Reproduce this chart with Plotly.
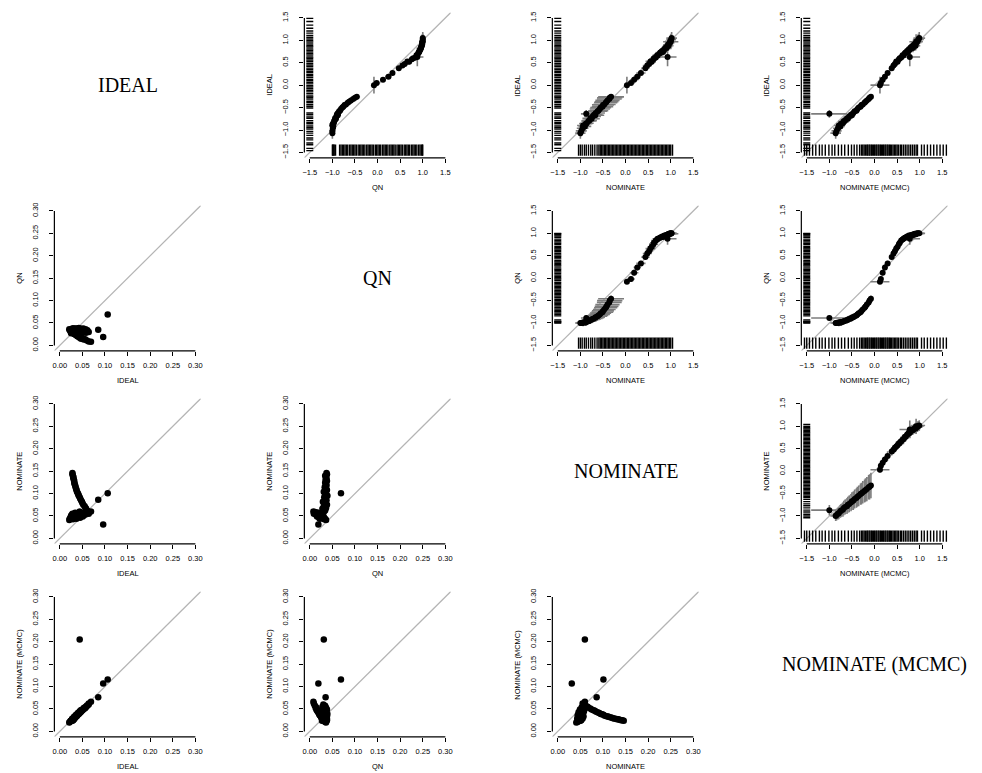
import plotly.graph_objects as go

W, H = 982, 773

METHODS = ["IDEAL", "QN", "NOMINATE", "NOMINATE (MCMC)"]

# Ideal points, Democrats (most liberal first)
IDEAL_D = [-1.07, -1.02, -0.96, -0.90, -0.92, -0.86, -0.85, -0.80, -0.79, -0.74, -0.75, -0.70, -0.66, -0.67,
           -0.62, -0.58, -0.57, -0.53, -0.50, -0.48, -0.44, -0.43, -0.39, -0.37, -0.34, -0.31, -0.28, -0.26]
QN_D = [-1.00, -1.00, -0.99, -1.00, -0.98, -0.99, -0.97, -0.96, -0.95, -0.94, -0.92, -0.91, -0.90, -0.88,
        -0.87, -0.85, -0.83, -0.81, -0.78, -0.76, -0.73, -0.70, -0.66, -0.63, -0.59, -0.54, -0.50, -0.46]
NOM_D = [-1.00, -0.98, -0.95, -0.94, -0.90, -0.88, -0.86, -0.82, -0.80, -0.78, -0.75, -0.73, -0.70, -0.67,
         -0.66, -0.62, -0.60, -0.57, -0.55, -0.51, -0.50, -0.47, -0.44, -0.42, -0.40, -0.36, -0.35, -0.32]
MCMC_D = [-0.86, -0.84, -0.81, -0.79, -0.76, -0.74, -0.70, -0.68, -0.65, -0.61, -0.59, -0.56, -0.52, -0.50,
          -0.47, -0.44, -0.40, -0.38, -0.35, -0.31, -0.29, -0.26, -0.22, -0.20, -0.17, -0.13, -0.11, -0.08]

# Ideal points, Republicans
IDEAL_R = [0.05, 0.12, 0.19, 0.27, 0.38, 0.44, 0.47, 0.53, 0.52, 0.58, 0.60, 0.62, 0.67, 0.66, 0.71,
           0.73, 0.76, 0.74, 0.80, 0.79, 0.84, 0.86, 0.83, 0.90, 0.92, 0.88, 0.95, 0.98, 1.02, 1.05]
QN_R = [-0.02, 0.12, 0.24, 0.33, 0.47, 0.55, 0.60, 0.66, 0.70, 0.76, 0.79, 0.84, 0.86, 0.88, 0.90,
        0.91, 0.93, 0.92, 0.95, 0.94, 0.96, 0.97, 0.96, 0.98, 0.99, 0.98, 0.99, 1.00, 1.00, 1.00]
NOM_R = [0.12, 0.19, 0.26, 0.34, 0.44, 0.48, 0.52, 0.55, 0.58, 0.62, 0.63, 0.67, 0.70, 0.71, 0.76,
         0.77, 0.81, 0.83, 0.86, 0.85, 0.89, 0.92, 0.91, 0.94, 0.96, 0.95, 0.98, 0.99, 1.01, 1.02]
MCMC_R = [0.14, 0.18, 0.23, 0.29, 0.38, 0.42, 0.45, 0.48, 0.51, 0.54, 0.56, 0.59, 0.62, 0.64, 0.67,
          0.69, 0.72, 0.74, 0.76, 0.78, 0.80, 0.83, 0.85, 0.87, 0.89, 0.91, 0.93, 0.95, 0.97, 0.99]

# A few poorly estimated legislators
IDEAL_X = [-0.64, 0.63, 0.00, 0.97]
QN_X = [-0.89, 0.88, -0.08, 0.99]
NOM_X = [-0.87, 0.93, 0.03, 1.00]
MCMC_X = [-1.00, 0.78, 0.12, 0.92]

# Standard errors, Democrats
IDEAL_SE_D = [0.064, 0.061, 0.058, 0.057, 0.055, 0.052, 0.050, 0.049, 0.047, 0.045, 0.044, 0.042, 0.041, 0.040,
              0.038, 0.037, 0.036, 0.035, 0.034, 0.033, 0.032, 0.032, 0.031, 0.030, 0.030, 0.029, 0.028, 0.028]
QN_SE_D = [0.030, 0.034, 0.028, 0.036, 0.031, 0.038, 0.033, 0.029, 0.037, 0.035, 0.032, 0.039, 0.034, 0.036,
           0.031, 0.038, 0.035, 0.033, 0.037, 0.036, 0.034, 0.038, 0.035, 0.037, 0.036, 0.034, 0.038, 0.037]
NOM_SE_D = [0.058, 0.062, 0.066, 0.068, 0.072, 0.075, 0.079, 0.082, 0.085, 0.089, 0.092, 0.095, 0.098, 0.101,
            0.104, 0.108, 0.111, 0.114, 0.118, 0.121, 0.124, 0.128, 0.131, 0.134, 0.137, 0.140, 0.143, 0.146]
MCMC_SE_D = [0.060, 0.057, 0.055, 0.053, 0.051, 0.049, 0.047, 0.046, 0.044, 0.042, 0.041, 0.039, 0.038, 0.037,
             0.035, 0.034, 0.033, 0.032, 0.031, 0.030, 0.029, 0.028, 0.027, 0.027, 0.026, 0.025, 0.025, 0.024]

# Standard errors, Republicans
IDEAL_SE_R = [0.022, 0.024, 0.021, 0.026, 0.027, 0.025, 0.029, 0.028, 0.031, 0.030, 0.033, 0.032, 0.035, 0.034, 0.037,
              0.036, 0.039, 0.041, 0.040, 0.043, 0.045, 0.044, 0.048, 0.047, 0.051, 0.053, 0.056, 0.060, 0.064, 0.069]
QN_SE_R = [0.034, 0.031, 0.036, 0.029, 0.030, 0.027, 0.032, 0.028, 0.026, 0.029, 0.025, 0.027, 0.024, 0.026, 0.022,
           0.025, 0.021, 0.023, 0.020, 0.019, 0.021, 0.017, 0.018, 0.015, 0.016, 0.013, 0.014, 0.011, 0.009, 0.008]
NOM_SE_R = [0.044, 0.048, 0.041, 0.052, 0.046, 0.050, 0.043, 0.055, 0.047, 0.051, 0.045, 0.053, 0.049, 0.057, 0.044,
            0.052, 0.048, 0.056, 0.050, 0.054, 0.046, 0.058, 0.051, 0.055, 0.049, 0.057, 0.053, 0.059, 0.055, 0.060]
MCMC_SE_R = [0.021, 0.024, 0.020, 0.025, 0.027, 0.024, 0.028, 0.029, 0.030, 0.029, 0.032, 0.033, 0.034, 0.033, 0.036,
             0.037, 0.038, 0.040, 0.041, 0.042, 0.043, 0.045, 0.046, 0.048, 0.049, 0.052, 0.054, 0.058, 0.062, 0.066]

IDEAL_SE_X = [0.044, 0.106, 0.096, 0.085]
QN_SE_X = [0.031, 0.069, 0.019, 0.035]
NOM_SE_X = [0.060, 0.101, 0.031, 0.086]
MCMC_SE_X = [0.205, 0.116, 0.107, 0.076]

# Rug values (bill parameters) shown along the axes of the upper panels
RUG_IDEAL = [-1.46, -1.41, -1.33, -1.29, -1.22, -1.18, -1.12, -1.07, -1.03, -0.98, -0.95, -0.91, -0.86, -0.83,
             -0.79, -0.74, -0.71, -0.66, -0.62, -0.51, -0.47, -0.43, -0.39, -0.36, -0.31, -0.27, -0.24, -0.19,
             -0.15, -0.12, -0.08, -0.04, -0.01, 0.03, 0.06, 0.10, 0.13, 0.17, 0.21, 0.24, 0.28, 0.31, 0.35, 0.38,
             0.42, 0.45, 0.49, 0.53, 0.56, 0.60, 0.63, 0.67, 0.70, 0.74, 0.78, 0.81, 0.85, 0.88, 0.92, 0.96,
             0.99, 1.03, 1.07, 1.11, 1.16, 1.21, 1.27, 1.34, 1.42, 1.49]
RUG_QN = [-1.00, -0.99, -0.97, -0.96, -0.93, -0.84, -0.81, -0.78, -0.75, -0.72, -0.69, -0.66, -0.62, -0.59,
          -0.56, -0.53, -0.50, -0.47, -0.43, -0.40, -0.37, -0.34, -0.31, -0.28, -0.24, -0.21, -0.18, -0.15,
          -0.12, -0.09, -0.05, -0.02, 0.01, 0.04, 0.07, 0.11, 0.14, 0.17, 0.20, 0.23, 0.27, 0.30, 0.33, 0.36,
          0.39, 0.43, 0.46, 0.49, 0.52, 0.55, 0.59, 0.62, 0.65, 0.68, 0.71, 0.75, 0.78, 0.81, 0.84, 0.87,
          0.91, 0.94, 0.97, 0.99, 1.00]
RUG_NOM = [-1.04, -1.00, -0.96, -0.91, -0.87, -0.82, -0.77, -0.73, -0.68, -0.63, -0.59, -0.56, -0.53, -0.50,
           -0.47, -0.44, -0.41, -0.38, -0.35, -0.32, -0.29, -0.26, -0.23, -0.20, -0.17, -0.14, -0.11, -0.08,
           -0.05, -0.02, 0.01, 0.04, 0.07, 0.10, 0.13, 0.16, 0.19, 0.22, 0.25, 0.28, 0.31, 0.34, 0.37, 0.40,
           0.43, 0.46, 0.49, 0.52, 0.55, 0.58, 0.61, 0.64, 0.67, 0.70, 0.73, 0.76, 0.79, 0.82, 0.85, 0.88,
           0.91, 0.94, 0.97, 1.00, 1.04]
RUG_MCMC = [-1.55, -1.50, -1.44, -1.37, -1.30, -1.22, -1.16, -1.09, -1.01, -0.94, -0.88, -0.80, -0.73, -0.66,
            -0.58, -0.51, -0.45, -0.39, -0.33, -0.29, -0.26, -0.23, -0.20, -0.17, -0.15, -0.12, -0.10, -0.07,
            -0.05, -0.02, 0.00, 0.03, 0.05, 0.08, 0.10, 0.13, 0.15, 0.18, 0.20, 0.23, 0.25, 0.28, 0.30, 0.33,
            0.35, 0.38, 0.41, 0.44, 0.47, 0.50, 0.53, 0.57, 0.60, 0.64, 0.68, 0.72, 0.76, 0.80, 0.84, 0.88,
            0.92, 0.95, 1.04, 1.10, 1.17, 1.24, 1.31, 1.38, 1.45, 1.52, 1.59]

# Axis ticks
EST_TICKS = [-1.5, -1.0, -0.5, 0.0, 0.5, 1.0, 1.5]
EST_LABELS = ["\u22121.5", "\u22121.0", "\u22120.5", "0.0", "0.5", "1.0", "1.5"]
SE_TICKS = [0.0, 0.05, 0.10, 0.15, 0.20, 0.25, 0.30]
SE_LABELS = ["0.00", "0.05", "0.10", "0.15", "0.20", "0.25", "0.30"]

est = [IDEAL_D + IDEAL_R + IDEAL_X, QN_D + QN_R + QN_X,
       NOM_D + NOM_R + NOM_X, MCMC_D + MCMC_R + MCMC_X]
se = [IDEAL_SE_D + IDEAL_SE_R + IDEAL_SE_X, QN_SE_D + QN_SE_R + QN_SE_X,
      NOM_SE_D + NOM_SE_R + NOM_SE_X, MCMC_SE_D + MCMC_SE_R + MCMC_SE_X]
rugs = [RUG_IDEAL, RUG_QN, RUG_NOM, RUG_MCMC]

# Panel geometry (pixels)
COL_LEFT = [52.6, 303.6, 552.6, 802.6]
ROW_TOP = [9.6, 203.6, 397.6, 591.6]
PW, PH = 147.0, 146.0

EST_RANGE = [-1.62, 1.62]
SE_RANGE = [-0.012, 0.312]
TICK_FONT = dict(family="Liberation Sans, Arial, sans-serif", size=7.5, color="black")
CI = 1.96
ERR_COLOR = "#7c7c7c"

fig = go.Figure()
layout = dict(width=W, height=H, margin=dict(l=0, r=0, t=0, b=0),
              paper_bgcolor="white", plot_bgcolor="white", showlegend=False)
shapes, annotations = [], []


def sfx(n):
    return "" if n == 1 else str(n)


for r in range(4):
    for c in range(4):
        n = r * 4 + c + 1
        s = sfx(n)
        left, top = COL_LEFT[c], ROW_TOP[r]
        xdom = [left / W, (left + PW) / W]
        ydom = [1 - (top + PH) / H, 1 - top / H]
        xname, yname = "x" + s, "y" + s

        if r == c:
            layout["xaxis" + s] = dict(domain=xdom, anchor=yname, visible=False, range=[0, 1])
            layout["yaxis" + s] = dict(domain=ydom, anchor=xname, visible=False, range=[0, 1])
            annotations.append(dict(text=METHODS[r], xref="paper", yref="paper",
                                    x=(left + PW / 2) / W, y=1 - (top + PH / 2) / H,
                                    xanchor="center", yanchor="middle", showarrow=False,
                                    font=dict(family="Liberation Serif, Times New Roman, serif",
                                              size=20, color="black")))
            continue

        upper = r < c
        rng = EST_RANGE if upper else SE_RANGE
        tv = EST_TICKS if upper else SE_TICKS
        tt = EST_LABELS if upper else SE_LABELS
        common = dict(range=rng, tickvals=tv, ticktext=tt, ticks="outside", ticklen=4,
                      tickwidth=1, tickcolor="black", tickfont=TICK_FONT, showgrid=False,
                      zeroline=False, showline=False, fixedrange=True)
        layout["xaxis" + s] = dict(domain=xdom, anchor=yname, ticklabelstandoff=3, **common)
        layout["yaxis" + s] = dict(domain=ydom, anchor=xname, tickangle=-90,
                                   ticklabelstandoff=8, **common)

        # R-style axis lines spanning the tick range
        shapes.append(dict(type="line", xref=xname, yref=yname + " domain",
                           x0=tv[0], x1=tv[-1], y0=0, y1=0,
                           line=dict(color="black", width=1.2)))
        shapes.append(dict(type="line", xref=xname + " domain", yref=yname,
                           x0=0, x1=0, y0=tv[0], y1=tv[-1],
                           line=dict(color="black", width=1.2)))
        # 45-degree reference line
        shapes.append(dict(type="line", xref=xname, yref=yname, layer="below",
                           x0=rng[0], y0=rng[0], x1=rng[1], y1=rng[1],
                           line=dict(color="#b4b4b4", width=1.2)))

        if upper:
            xs, ys = est[c], est[r]
            # confidence intervals
            fig.add_trace(go.Scatter(
                x=xs, y=ys, mode="markers", xaxis=xname, yaxis=yname,
                marker=dict(size=2, color="rgba(0,0,0,0)"),
                error_x=dict(type="data", array=[CI * v for v in se[c]], color=ERR_COLOR,
                             thickness=1.6, width=0),
                error_y=dict(type="data", array=[CI * v for v in se[r]], color=ERR_COLOR,
                             thickness=1.6, width=0),
                hoverinfo="skip"))
            # rug of column method along the bottom
            fig.add_trace(go.Scatter(
                x=rugs[c], y=[-1.45] * len(rugs[c]), mode="markers", xaxis=xname, yaxis=yname,
                marker=dict(symbol="line-ns", size=8, line=dict(width=1.4, color="black")),
                hoverinfo="skip"))
            # rug of row method along the left
            fig.add_trace(go.Scatter(
                x=[-1.5] * len(rugs[r]), y=rugs[r], mode="markers", xaxis=xname, yaxis=yname,
                marker=dict(symbol="line-ew", size=5, line=dict(width=1.4, color="black")),
                hoverinfo="skip"))
            fig.add_trace(go.Scatter(
                x=xs, y=ys, mode="markers", xaxis=xname, yaxis=yname,
                marker=dict(size=6, color="black")))
        else:
            fig.add_trace(go.Scatter(
                x=se[c], y=se[r], mode="markers", xaxis=xname, yaxis=yname,
                marker=dict(size=6.5, color="black")))

        # axis titles
        annotations.append(dict(text=METHODS[c], xref="paper", yref="paper",
                                x=(left + PW / 2) / W, y=1 - (top + PH + 30) / H,
                                xanchor="center", yanchor="middle", showarrow=False,
                                font=TICK_FONT))
        annotations.append(dict(text=METHODS[r], xref="paper", yref="paper",
                                x=(left - 35) / W, y=1 - (top + PH / 2) / H,
                                xanchor="center", yanchor="middle", textangle=-90,
                                showarrow=False, font=TICK_FONT))

layout["shapes"] = shapes
layout["annotations"] = annotations
fig.update_layout(**layout)
fig.write_html("out.html")
